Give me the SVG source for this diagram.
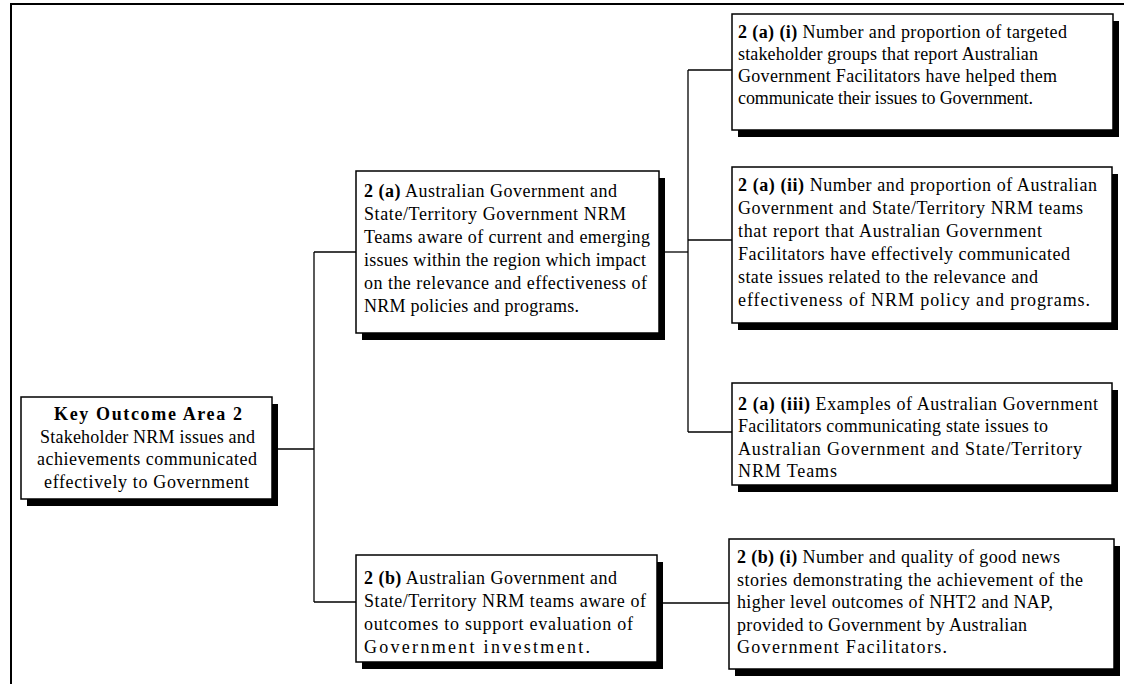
<svg xmlns="http://www.w3.org/2000/svg" width="1124" height="684" viewBox="0 0 1124 684">
<style>
.bg{fill:#ffffff}
.box{fill:#ffffff;stroke:#000000;stroke-width:1.5}
.shadow{fill:#000000}
.frame{fill:none;stroke:#000000;stroke-width:2}
.conn{fill:none;stroke:#000000;stroke-width:1.3}
text{font-family:"Liberation Serif","Times New Roman",serif;font-size:18px;fill:#000000}
.b{font-weight:bold}
.c{text-anchor:middle}
</style>
<rect class="bg" x="0" y="0" width="1124" height="684"/>
<g id="frame">
<path class="frame" d="M11,684 V4 H1124"/>
</g>
<g id="connectors">
<path class="conn" d="M272,449 H314"/>
<path class="conn" d="M314,252 V602"/>
<path class="conn" d="M314,252 H356"/>
<path class="conn" d="M314,602 H356"/>
<path class="conn" d="M659,252 H688"/>
<path class="conn" d="M688,70 V432"/>
<path class="conn" d="M688,70 H732"/>
<path class="conn" d="M688,240 H732"/>
<path class="conn" d="M688,432 H732"/>
<path class="conn" d="M657,603 H729"/>
</g>
<g id="kra2">
<rect class="shadow" x="27" y="404" width="251" height="102"/>
<rect class="box" x="21" y="397" width="251" height="102"/>
<text class="c b" x="148" y="420" textLength="188" lengthAdjust="spacing">Key Outcome Area 2</text>
<text class="c" x="147.5" y="442.5" textLength="215" lengthAdjust="spacing">Stakeholder NRM issues and</text>
<text class="c" x="147" y="465" textLength="220" lengthAdjust="spacing">achievements communicated</text>
<text class="c" x="146.5" y="487.5" textLength="205" lengthAdjust="spacing">effectively to Government</text>
</g>
<g id="n2a">
<rect class="shadow" x="362" y="178" width="303" height="162"/>
<rect class="box" x="356" y="171" width="303" height="162"/>
<text x="364" y="197" textLength="253" lengthAdjust="spacing"><tspan class="b">2 (a)</tspan> Australian Government and</text>
<text x="364" y="220" textLength="262" lengthAdjust="spacing">State/Territory Government NRM</text>
<text x="364" y="243" textLength="286" lengthAdjust="spacing">Teams aware of current and emerging</text>
<text x="364" y="266" textLength="282" lengthAdjust="spacing">issues within the region which impact</text>
<text x="364" y="289" textLength="283" lengthAdjust="spacing">on the relevance and effectiveness of</text>
<text x="364" y="312" textLength="215" lengthAdjust="spacing">NRM policies and programs.</text>
</g>
<g id="n2b">
<rect class="shadow" x="362" y="562" width="301" height="107"/>
<rect class="box" x="356" y="555" width="301" height="107"/>
<text x="364" y="584" textLength="253" lengthAdjust="spacing"><tspan class="b">2 (b)</tspan> Australian Government and</text>
<text x="364" y="607" textLength="282" lengthAdjust="spacing">State/Territory NRM teams aware of</text>
<text x="364" y="630" textLength="269" lengthAdjust="spacing">outcomes to support evaluation of</text>
<text x="364" y="653" textLength="226" lengthAdjust="spacing">Government investment.</text>
</g>
<g id="n2ai">
<rect class="shadow" x="738" y="21" width="381" height="116"/>
<rect class="box" x="732" y="14" width="381" height="116"/>
<text x="738" y="38" textLength="329" lengthAdjust="spacing"><tspan class="b">2 (a) (i)</tspan> Number and proportion of targeted</text>
<text x="738" y="60" textLength="300" lengthAdjust="spacing">stakeholder groups that report Australian</text>
<text x="738" y="82" textLength="319" lengthAdjust="spacing">Government Facilitators have helped them</text>
<text x="738" y="104" textLength="295" lengthAdjust="spacing">communicate their issues to Government.</text>
</g>
<g id="n2aii">
<rect class="shadow" x="738" y="174" width="380" height="156"/>
<rect class="box" x="732" y="167" width="380" height="156"/>
<text x="738" y="191" textLength="359" lengthAdjust="spacing"><tspan class="b">2 (a) (ii)</tspan> Number and proportion of Australian</text>
<text x="738" y="214" textLength="345" lengthAdjust="spacing">Government and State/Territory NRM teams</text>
<text x="738" y="237" textLength="304" lengthAdjust="spacing">that report that Australian Government</text>
<text x="738" y="260" textLength="332" lengthAdjust="spacing">Facilitators have effectively communicated</text>
<text x="738" y="283" textLength="300" lengthAdjust="spacing">state issues related to the relevance and</text>
<text x="738" y="306" textLength="352" lengthAdjust="spacing">effectiveness of NRM policy and programs.</text>
</g>
<g id="n2aiii">
<rect class="shadow" x="738" y="390" width="380" height="102"/>
<rect class="box" x="732" y="383" width="380" height="102"/>
<text x="738" y="409.5" textLength="360" lengthAdjust="spacing"><tspan class="b">2 (a) (iii)</tspan> Examples of Australian Government</text>
<text x="738" y="432" textLength="310" lengthAdjust="spacing">Facilitators communicating state issues to</text>
<text x="738" y="454.5" textLength="344" lengthAdjust="spacing">Australian Government and State/Territory</text>
<text x="738" y="477" textLength="99" lengthAdjust="spacing">NRM Teams</text>
</g>
<g id="n2bi">
<rect class="shadow" x="735" y="546" width="385" height="130"/>
<rect class="box" x="729" y="539" width="385" height="130"/>
<text x="737" y="563" textLength="323" lengthAdjust="spacing"><tspan class="b">2 (b) (i)</tspan>  Number and quality of good news</text>
<text x="737" y="585.5" textLength="346" lengthAdjust="spacing">stories demonstrating the achievement of the</text>
<text x="737" y="608" textLength="316" lengthAdjust="spacing">higher level outcomes of NHT2 and NAP,</text>
<text x="737" y="630.5" textLength="290" lengthAdjust="spacing">provided to Government by Australian</text>
<text x="737" y="653" textLength="210" lengthAdjust="spacing">Government Facilitators.</text>
</g>
</svg>
